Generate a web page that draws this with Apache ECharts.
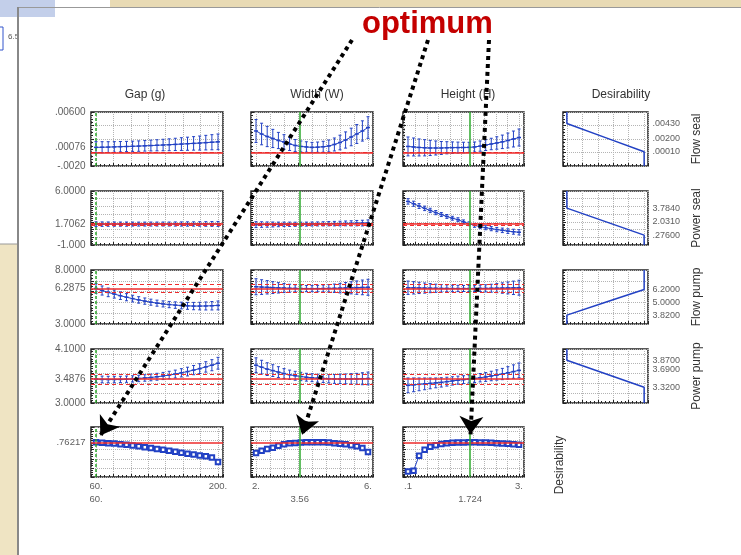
<!DOCTYPE html>
<html lang="en">
<head>
  <meta charset="utf-8">
  <title>Desirability profiles</title>
</head>
<body style="margin: 0; background: #fff">
  <div id="main" style="width: 741px; height: 555px;"></div>
  <script src="https://cdn.jsdelivr.net/npm/echarts@6.0.0/dist/echarts.min.js"></script>
  <script>
    // ---- data ----
    var gapX = [60, 67, 74, 81, 88, 95, 102, 109, 116, 123, 130, 137, 144, 151, 158, 165, 172, 179, 186, 193, 200];
    var widthX = [2.0, 2.2, 2.4, 2.6, 2.8, 3.0, 3.2, 3.4, 3.6, 3.8, 4.0, 4.2, 4.4, 4.6, 4.8, 5.0, 5.2, 5.4, 5.6, 5.8, 6.0];
    var heightX = [0.1, 0.245, 0.39, 0.535, 0.68, 0.825, 0.97, 1.115, 1.26, 1.405, 1.55, 1.695, 1.84, 1.985, 2.13, 2.275, 2.42, 2.565, 2.71, 2.855, 3.0];

    var factorNames = ['Gap (g)', 'Width (W)', 'Height (H)', 'Desirability'];
    var responseNames = ['Flow seal', 'Power seal', 'Flow pump', 'Power pump'];

    var xRanges = [[60, 200], [2, 6], [0.1, 3]];
    var xEndLabels = [['60.', '200.'], ['2.', '6.'], ['.1', '3.']];
    var current = [60, 3.56, 1.724];
    var currentLabels = ['60.', '3.56', '1.724'];

    var yRanges = [[-0.002, 0.006], [-1, 6], [3, 8], [3, 4.1]];
    var yEndLabels = [['-.0020', '.00600'], ['-1.000', '6.0000'], ['3.0000', '8.0000'], ['3.0000', '4.1000']];
    var predicted = [0.00076, 1.7062, 6.2875, 3.4876];
    var predictedLabels = ['.00076', '1.7062', '6.2875', '3.4876'];
    var ciHalf = [0.0009, 0.12, 0.35, 0.1];

    var overallD = 0.76217;
    var overallDLabel = '.76217';
    var dRange = [0, 1.1];

    // Flow seal
    var fsGap = [0.00076, 0.00078, 0.0008, 0.00083, 0.00086, 0.00089, 0.00092, 0.00095, 0.00099, 0.00103, 0.00107, 0.00111, 0.00115, 0.0012, 0.00125, 0.0013, 0.00135, 0.0014, 0.00146, 0.00152, 0.00158];
    var fsGapErr = [0.00085, 0.00082, 0.0008, 0.00078, 0.00077, 0.00076, 0.00076, 0.00077, 0.00078, 0.0008, 0.00082, 0.00085, 0.00088, 0.00091, 0.00094, 0.00097, 0.001, 0.00104, 0.00108, 0.00112, 0.00116];
    var fsWidth = [0.00319, 0.00274, 0.00237, 0.00208, 0.00178, 0.00156, 0.00126, 0.00104, 0.0009, 0.00082, 0.00076, 0.00079, 0.00085, 0.00097, 0.00119, 0.00148, 0.00185, 0.0023, 0.00274, 0.00319, 0.0037];
    var fsWidthErr = [0.0017, 0.0016, 0.0015, 0.00135, 0.0012, 0.00108, 0.00096, 0.00088, 0.00081, 0.00077, 0.00074, 0.00076, 0.00081, 0.00088, 0.00096, 0.00108, 0.0012, 0.0013, 0.0014, 0.0015, 0.0016];
    var fsHeight = [0.0009, 0.00082, 0.00075, 0.0007, 0.00067, 0.00067, 0.00067, 0.0007, 0.00072, 0.00073, 0.00074, 0.00076, 0.00082, 0.00095, 0.0011, 0.00126, 0.00141, 0.00158, 0.00178, 0.002, 0.00222];
    var fsHeightErr = [0.0014, 0.00133, 0.00126, 0.0012, 0.00112, 0.00104, 0.00096, 0.0009, 0.00085, 0.00081, 0.00078, 0.00075, 0.00074, 0.00076, 0.0008, 0.00085, 0.00092, 0.001, 0.0011, 0.00118, 0.00126];

    // Power seal
    var psGap = [1.706, 1.705, 1.707, 1.709, 1.708, 1.71, 1.712, 1.711, 1.713, 1.715, 1.716, 1.718, 1.717, 1.72, 1.722, 1.724, 1.723, 1.726, 1.728, 1.73, 1.732];
    var psGapErr = [0.3, 0.29, 0.28, 0.28, 0.27, 0.27, 0.26, 0.26, 0.26, 0.26, 0.26, 0.26, 0.26, 0.27, 0.27, 0.28, 0.28, 0.29, 0.3, 0.31, 0.32];
    var psWidth = [1.64, 1.65, 1.65, 1.66, 1.67, 1.68, 1.69, 1.69, 1.7, 1.71, 1.72, 1.73, 1.74, 1.76, 1.77, 1.78, 1.8, 1.81, 1.83, 1.84, 1.86];
    var psWidthErr = [0.38, 0.36, 0.34, 0.32, 0.3, 0.29, 0.28, 0.27, 0.26, 0.26, 0.26, 0.26, 0.27, 0.28, 0.29, 0.3, 0.31, 0.33, 0.35, 0.37, 0.39];
    var psHeight = [4.65, 4.35, 4.05, 3.75, 3.48, 3.2, 2.95, 2.7, 2.47, 2.28, 2.0, 1.75, 1.55, 1.38, 1.24, 1.12, 1.0, 0.9, 0.8, 0.72, 0.65];
    var psHeightErr = [0.35, 0.33, 0.31, 0.29, 0.28, 0.27, 0.26, 0.25, 0.25, 0.25, 0.25, 0.25, 0.25, 0.25, 0.26, 0.27, 0.28, 0.29, 0.3, 0.32, 0.34];

    // Flow pump
    var fpGap = [6.29, 6.1, 5.93, 5.77, 5.62, 5.48, 5.35, 5.23, 5.12, 5.02, 4.93, 4.86, 4.8, 4.75, 4.71, 4.68, 4.66, 4.66, 4.67, 4.69, 4.72];
    var fpGapErr = [0.45, 0.42, 0.4, 0.37, 0.35, 0.33, 0.31, 0.3, 0.29, 0.28, 0.28, 0.28, 0.29, 0.3, 0.31, 0.32, 0.34, 0.35, 0.37, 0.39, 0.41];
    var fpWidth = [6.45, 6.42, 6.4, 6.37, 6.35, 6.33, 6.31, 6.3, 6.29, 6.28, 6.28, 6.28, 6.29, 6.3, 6.31, 6.32, 6.34, 6.35, 6.37, 6.39, 6.4];
    var fpWidthErr = [0.74, 0.68, 0.62, 0.55, 0.48, 0.42, 0.37, 0.33, 0.3, 0.29, 0.29, 0.3, 0.32, 0.35, 0.39, 0.44, 0.5, 0.56, 0.62, 0.68, 0.74];
    var fpHeight = [6.36, 6.35, 6.34, 6.33, 6.32, 6.31, 6.3, 6.3, 6.29, 6.29, 6.29, 6.29, 6.29, 6.3, 6.3, 6.31, 6.32, 6.33, 6.34, 6.35, 6.36];
    var fpHeightErr = [0.62, 0.57, 0.52, 0.47, 0.42, 0.38, 0.35, 0.32, 0.3, 0.29, 0.28, 0.28, 0.29, 0.3, 0.33, 0.37, 0.42, 0.48, 0.55, 0.62, 0.69];

    // Power pump
    var ppGap = [3.4876, 3.48, 3.478, 3.478, 3.48, 3.485, 3.49, 3.5, 3.51, 3.52, 3.535, 3.55, 3.57, 3.59, 3.615, 3.64, 3.67, 3.7, 3.735, 3.77, 3.81];
    var ppGapErr = [0.07, 0.068, 0.066, 0.065, 0.064, 0.064, 0.064, 0.065, 0.066, 0.068, 0.07, 0.073, 0.076, 0.08, 0.084, 0.089, 0.094, 0.1, 0.106, 0.113, 0.12];
    var ppWidth = [3.77, 3.73, 3.69, 3.66, 3.63, 3.6, 3.575, 3.555, 3.54, 3.525, 3.515, 3.505, 3.5, 3.495, 3.49, 3.49, 3.49, 3.49, 3.49, 3.495, 3.5];
    var ppWidthErr = [0.15, 0.14, 0.13, 0.12, 0.11, 0.1, 0.095, 0.09, 0.085, 0.08, 0.08, 0.08, 0.082, 0.085, 0.09, 0.095, 0.1, 0.107, 0.114, 0.122, 0.13];
    var ppHeight = [3.36, 3.37, 3.38, 3.39, 3.4, 3.41, 3.42, 3.435, 3.45, 3.465, 3.475, 3.488, 3.5, 3.515, 3.53, 3.55, 3.57, 3.59, 3.615, 3.64, 3.665];
    var ppHeightErr = [0.15, 0.14, 0.13, 0.12, 0.11, 0.1, 0.095, 0.09, 0.085, 0.082, 0.08, 0.08, 0.082, 0.085, 0.09, 0.097, 0.105, 0.115, 0.125, 0.137, 0.15];

    // overall desirability profiles
    var dGap = [0.762, 0.755, 0.745, 0.735, 0.722, 0.708, 0.692, 0.674, 0.655, 0.637, 0.618, 0.598, 0.578, 0.557, 0.536, 0.514, 0.494, 0.474, 0.455, 0.43, 0.33];
    var dWidth = [0.53, 0.575, 0.615, 0.645, 0.69, 0.72, 0.74, 0.75, 0.758, 0.762, 0.765, 0.765, 0.762, 0.757, 0.745, 0.73, 0.72, 0.7, 0.675, 0.64, 0.55];
    var dHeight = [0.12, 0.14, 0.47, 0.6, 0.665, 0.7, 0.725, 0.742, 0.752, 0.758, 0.761, 0.762, 0.762, 0.761, 0.758, 0.752, 0.745, 0.738, 0.73, 0.72, 0.712];

    // desirability functions: response value at d = 0, middle, d = 1
    var dAtZero = [0.0043, 3.784, 3.82, 3.87];
    var dAtHalf = [0.002, 2.031, 5.0, 3.69];
    var dAtOne = [0.0001, 0.276, 6.2, 3.32];
    var dFuncLabels = [['.00430', '.00200', '.00010'], ['3.7840', '2.0310', '.27600'], ['3.8200', '5.0000', '6.2000'], ['3.8700', '3.6900', '3.3200']];

    // ---- layout ----
    var BLUE = '#2241c4', RED = '#ee2b2b', GREEN = '#2ea82e', INK = '#222', TXT = '#333';
    var FONT = '"Liberation Sans", Arial, sans-serif';
    var colLeft = [91, 251, 403, 563], colWidth = [132, 122, 121, 85];
    var rowTop = [112, 191, 270, 349, 427], rowHeight = [54, 54, 54, 54, 50];
    var titleX = [140, 312, 463, 616];

    var factorX = [gapX, widthX, heightX];
    var means = [[fsGap, fsWidth, fsHeight], [psGap, psWidth, psHeight], [fpGap, fpWidth, fpHeight], [ppGap, ppWidth, ppHeight]];
    var errs = [[fsGapErr, fsWidthErr, fsHeightErr], [psGapErr, psWidthErr, psHeightErr], [fpGapErr, fpWidthErr, fpHeightErr], [ppGapErr, ppWidthErr, ppHeightErr]];
    var dProfiles = [dGap, dWidth, dHeight];

    var chart = echarts.init(document.getElementById('main'), null, { renderer: 'canvas' });

    var grids = [], xAxes = [], yAxes = [], series = [];

    function axis(i, min, max, split) {
      return {
        type: 'value', gridIndex: i, min: min, max: max, splitNumber: split,
        axisLabel: { show: false },
        axisLine: { show: false, onZero: false },
        axisTick: { show: true, inside: true, length: 3, lineStyle: { color: INK } },
        minorTick: { show: true, splitNumber: 4, length: 2, lineStyle: { color: INK } },
        splitLine: { show: true, lineStyle: { type: 'dotted', color: '#b4b4b4' } }
      };
    }

    function addPanel(r, c, xMin, xMax, yMin, yMax, xSplit) {
      var i = grids.length;
      grids.push({
        left: colLeft[c], top: rowTop[r], width: colWidth[c], height: rowHeight[r],
        show: true, backgroundColor: '#fff', borderColor: INK, borderWidth: 1.5,
        containLabel: false, outerBoundsMode: 'none'
      });
      xAxes.push(axis(i, xMin, xMax, xSplit));
      yAxes.push(axis(i, yMin, yMax, 5));
      return i;
    }

    // keep the first/last factor level a few pixels inside the frame
    function padded(c) {
      var lo = xRanges[c][0], hi = xRanges[c][1];
      var pad = (hi - lo) * 5 / (colWidth[c] - 10);
      return [lo - pad, hi + pad];
    }

    function labelSeries(i, items, size) {
      return {
        type: 'scatter', xAxisIndex: i, yAxisIndex: i, silent: true, clip: false, z: 6,
        symbolSize: 1, itemStyle: { color: 'rgba(0,0,0,0)' },
        label: { show: true, color: TXT, fontFamily: FONT, fontSize: size || 9.5 },
        data: items.map(function (it) {
          return { value: [it[0], it[1]], label: { formatter: it[2], position: it[3], distance: it[4] } };
        })
      };
    }

    function renderErrorBar(params, api) {
      var x = api.value(0), m = api.value(1), h = api.value(2);
      var top = api.coord([x, m + h]), bot = api.coord([x, m - h]), mid = api.coord([x, m]);
      var st = { stroke: BLUE, lineWidth: 1 };
      return {
        type: 'group',
        children: [
          { type: 'line', shape: { x1: top[0], y1: top[1], x2: bot[0], y2: bot[1] }, style: st },
          { type: 'line', shape: { x1: top[0] - 1.5, y1: top[1], x2: top[0] + 1.5, y2: top[1] }, style: st },
          { type: 'line', shape: { x1: bot[0] - 1.5, y1: bot[1], x2: bot[0] + 1.5, y2: bot[1] }, style: st },
          { type: 'line', shape: { x1: mid[0] - 2, y1: mid[1], x2: mid[0] + 2, y2: mid[1] }, style: { stroke: BLUE, lineWidth: 1.5 } }
        ]
      };
    }

    // response rows
    for (var r = 0; r < 4; r++) {
      for (var c = 0; c < 3; c++) {
        var xr = padded(c);
        var g = addPanel(r, c, xr[0], xr[1], yRanges[r][0], yRanges[r][1], 10);
        var xs = factorX[c];
        series.push({
          type: 'line', xAxisIndex: g, yAxisIndex: g, z: 2, symbol: 'none', silent: true,
          lineStyle: { color: BLUE, width: 1 },
          data: xs.map(function (x, k) { return [x, means[r][c][k]]; }),
          markLine: {
            silent: true, symbol: 'none', label: { show: false },
            data: [
              { yAxis: predicted[r] - ciHalf[r], lineStyle: { color: RED, width: 1, type: [4, 3] } },
              { yAxis: predicted[r] + ciHalf[r], lineStyle: { color: RED, width: 1, type: [4, 3] } },
              { yAxis: predicted[r], lineStyle: { color: RED, width: 1.5, type: 'solid' } },
              { xAxis: current[c], lineStyle: { color: GREEN, width: 1.5, type: c === 0 ? [3, 2] : 'solid' } }
            ]
          }
        });
        series.push({
          type: 'custom', xAxisIndex: g, yAxisIndex: g, z: 3, silent: true,
          renderItem: renderErrorBar,
          encode: { x: 0, y: 1 },
          data: xs.map(function (x, k) { return [x, means[r][c][k], errs[r][c][k]]; })
        });
        if (c === 0) {
          series.push(labelSeries(g, [
            [xr[0], yRanges[r][1], yEndLabels[r][1], 'left', 5],
            [xr[0], predicted[r], predictedLabels[r], 'left', 5],
            [xr[0], yRanges[r][0], yEndLabels[r][0], 'left', 5]
          ], 10));
        }
      }

      // desirability function for this response
      var gd = addPanel(r, 3, -0.05, 1.05, yRanges[r][0], yRanges[r][1], 5);
      var v0 = dAtZero[r], v1 = dAtOne[r];
      var edge0 = v0 > v1 ? yRanges[r][1] : yRanges[r][0];
      var edge1 = v0 > v1 ? yRanges[r][0] : yRanges[r][1];
      var small = { show: true, position: 'top', distance: 2, fontSize: 7, color: TXT, fontFamily: FONT };
      series.push({
        type: 'line', xAxisIndex: gd, yAxisIndex: gd, z: 3, silent: true, symbol: 'none',
        lineStyle: { color: BLUE, width: 1.5 },
        data: [
          [0, edge0],
          { value: [0, v0], label: Object.assign({ formatter: '0.', offset: [4, 0] }, small) },
          { value: [0.5, (v0 + v1) / 2], label: Object.assign({ formatter: '.5', offset: [0, -2] }, small) },
          { value: [1, v1], label: Object.assign({ formatter: '1.', offset: [-4, 0] }, small) },
          [1, edge1]
        ]
      });
      series.push(labelSeries(gd, [
        [1.05, v0, dFuncLabels[r][0], 'right', 4],
        [1.05, dAtHalf[r], dFuncLabels[r][1], 'right', 4],
        [1.05, v1, dFuncLabels[r][2], 'right', 4]
      ], 9));
    }

    // overall desirability row
    for (var c2 = 0; c2 < 3; c2++) {
      var xr2 = padded(c2);
      var gr = addPanel(4, c2, xr2[0], xr2[1], dRange[0], dRange[1], 10);
      series.push({
        type: 'line', xAxisIndex: gr, yAxisIndex: gr, z: 3, silent: true,
        symbol: 'emptyRect', symbolSize: 4.5,
        itemStyle: { color: BLUE, borderWidth: 1.2 },
        lineStyle: { color: BLUE, width: 1 },
        data: factorX[c2].map(function (x, k) { return [x, dProfiles[c2][k]]; }),
        markLine: {
          silent: true, symbol: 'none', label: { show: false },
          data: [
            { yAxis: overallD, lineStyle: { color: RED, width: 1.5, type: 'solid' } },
            { xAxis: current[c2], lineStyle: { color: GREEN, width: 1.5, type: c2 === 0 ? [3, 2] : 'solid' } }
          ]
        }
      });
      var items = [
        [xRanges[c2][0], dRange[0], xEndLabels[c2][0], 'bottom', 4],
        [xRanges[c2][1], dRange[0], xEndLabels[c2][1], 'bottom', 4],
        [current[c2], dRange[0], currentLabels[c2], 'bottom', 17]
      ];
      if (c2 === 0) items.push([xr2[0], overallD, overallDLabel, 'left', 5]);
      series.push(labelSeries(gr, items, 9.5));
    }

    // full-page overlay used only for the annotation arrows
    var overlay = grids.length;
    grids.push({ left: 0, top: 0, width: 741, height: 555, show: false, containLabel: false, outerBoundsMode: 'none' });
    xAxes.push({ type: 'value', gridIndex: overlay, min: 0, max: 741, show: false });
    yAxes.push({ type: 'value', gridIndex: overlay, min: 0, max: 555, inverse: true, show: false });

    var titles = factorNames.map(function (name, k) {
      return {
        text: name, left: titleX[k], top: 84, textAlign: 'center',
        textStyle: { fontSize: 12, fontWeight: 'normal', color: TXT, fontFamily: FONT }
      };
    });

    var graphics = [
      // bits of the desktop behind the window
      { type: 'rect', shape: { x: 0, y: 0, width: 741, height: 7 }, style: { fill: '#e8dab4' } },
      { type: 'rect', shape: { x: 0, y: 0, width: 55, height: 17 }, style: { fill: '#c3cfea' } },
      { type: 'rect', shape: { x: 55, y: 0, width: 55, height: 7 }, style: { fill: '#fff' } },
      { type: 'rect', shape: { x: 0, y: 244, width: 18, height: 311 }, style: { fill: '#efe4c3' } },
      { type: 'rect', shape: { x: -2, y: 27, width: 5, height: 23 }, style: { fill: '#fff', stroke: '#3355cc', lineWidth: 1 } },
      { type: 'text', x: 8, y: 33, style: { text: '6.5', fontSize: 8, fill: '#555', fontFamily: FONT } },
      { type: 'line', shape: { x1: 0, y1: 244, x2: 18, y2: 244 }, style: { stroke: '#999', lineWidth: 1 } },
      { type: 'line', shape: { x1: 18, y1: 7.5, x2: 741, y2: 7.5 }, style: { stroke: '#999', lineWidth: 1 } },
      { type: 'line', shape: { x1: 18, y1: 7, x2: 18, y2: 555 }, style: { stroke: '#888', lineWidth: 2 } },
      {
        type: 'text', x: 362, y: 9,
        style: { text: 'optimum', font: 'bold 31px ' + FONT, fill: '#c40000' }
      },
      {
        type: 'text', x: 560, y: 465, rotation: Math.PI / 2,
        style: { text: 'Desirability', fontSize: 12, fill: TXT, fontFamily: FONT, align: 'center', verticalAlign: 'middle' }
      }
    ];
    responseNames.forEach(function (name, k) {
      graphics.push({
        type: 'text', x: 697, y: rowTop[k] + rowHeight[k] / 2, rotation: Math.PI / 2,
        style: { text: name, fontSize: 12, fill: TXT, fontFamily: FONT, align: 'center', verticalAlign: 'middle' }
      });
    });

    var option = {
      animation: false,
      backgroundColor: '#fff',
      textStyle: { fontFamily: FONT },
      title: titles,
      grid: grids,
      xAxis: xAxes,
      yAxis: yAxes,
      series: series,
      graphic: graphics
    };
    chart.setOption(option);

    // arrows from the "optimum" label to the current optimum on each desirability profile
    var arrowStarts = [[352, 40], [428, 40], [489, 40]];
    var arrowTargets = current.map(function (x) { return [x, overallD]; });
    var arrowData = arrowTargets.map(function (t, k) {
      var p = chart.convertToPixel({ gridIndex: 16 + k }, t);
      var s = arrowStarts[k];
      var dx = p[0] - s[0], dy = p[1] - s[1], len = Math.sqrt(dx * dx + dy * dy);
      return { coords: [s, [p[0] - dx / len * 8, p[1] - dy / len * 8]] };
    });
    option.series.push({
      type: 'lines', coordinateSystem: 'cartesian2d', xAxisIndex: overlay, yAxisIndex: overlay,
      z: 10, silent: true,
      symbol: ['none', 'arrow'], symbolSize: 18,
      lineStyle: { color: '#000', width: 4, type: [4, 4], opacity: 1, curveness: 0 },
      data: arrowData
    });
    chart.setOption(option);
  </script>
</body>
</html>
